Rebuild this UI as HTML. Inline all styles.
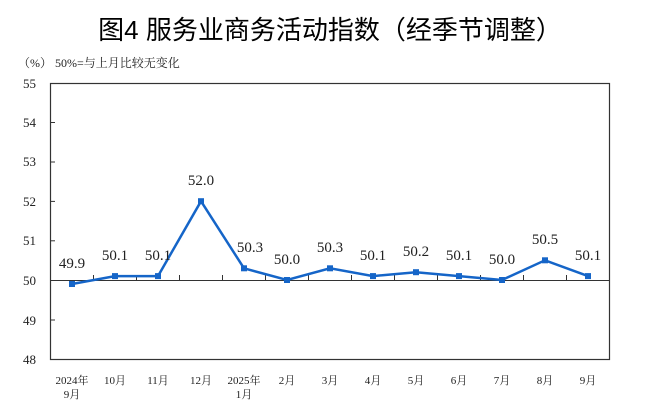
<!DOCTYPE html><html><head><meta charset="utf-8"><style>body{margin:0;background:#fff}svg{display:block}</style></head><body>
<svg width="660" height="410" xmlns="http://www.w3.org/2000/svg" font-family="'Liberation Serif','Noto Serif CJK SC',serif">
<text x="330" y="39" text-anchor="middle" font-size="26" font-family="'Liberation Sans','Noto Sans CJK SC',sans-serif" fill="#000">图4  服务业商务活动指数（经季节调整）</text>
<text x="18" y="67" font-size="12" fill="#222">（%）  50%=与上月比较无变化</text>
<rect x="50.5" y="83.5" width="559" height="276" fill="none" stroke="#333" stroke-width="1.2"/>
<g font-size="13" fill="#222" text-anchor="end">
<text x="36" y="88">55</text><text x="36" y="127">54</text><text x="36" y="166">53</text><text x="36" y="206">52</text><text x="36" y="245">51</text><text x="36" y="285">50</text><text x="36" y="325">49</text><text x="36" y="364">48</text></g>
<g stroke="#333" stroke-width="1">
<line x1="50" y1="122.5" x2="55" y2="122.5"/><line x1="50" y1="162" x2="55" y2="162"/><line x1="50" y1="201.4" x2="55" y2="201.4"/><line x1="50" y1="240.8" x2="55" y2="240.8"/><line x1="50" y1="320" x2="55" y2="320"/>
<line x1="50" y1="280.5" x2="610" y2="280.5"/>
<path d="M93.5 280v-5M136.5 280v-5M179.5 280v-5M222.5 280v-5M265.5 280v-5M308.5 280v-5M351.5 280v-5M394.5 280v-5M437.5 280v-5M480.5 280v-5M523.5 280v-5M566.5 280v-5"/>
</g>
<polyline fill="none" stroke="#1565c8" stroke-width="2.5" points="72,284 115,276.1 158,276.1 201,201.2 244,268.3 287,280 330,268.3 373,276.1 416,272.2 459,276.1 502,280 545,260.3 588,276.1"/>
<g fill="#1565c8">
<rect x="69" y="281" width="6" height="6"/><rect x="112" y="273.1" width="6" height="6"/><rect x="155" y="273.1" width="6" height="6"/><rect x="198" y="198.2" width="6" height="6"/><rect x="241" y="265.3" width="6" height="6"/><rect x="284" y="277" width="6" height="6"/><rect x="327" y="265.3" width="6" height="6"/><rect x="370" y="273.1" width="6" height="6"/><rect x="413" y="269.2" width="6" height="6"/><rect x="456" y="273.1" width="6" height="6"/><rect x="499" y="277" width="6" height="6"/><rect x="542" y="257.3" width="6" height="6"/><rect x="585" y="273.1" width="6" height="6"/></g>
<g font-size="15" fill="#222" text-anchor="middle">
<text x="72" y="268">49.9</text><text x="115" y="260">50.1</text><text x="158" y="260">50.1</text><text x="201" y="185">52.0</text><text x="250" y="252">50.3</text><text x="287" y="264">50.0</text><text x="330" y="252">50.3</text><text x="373" y="260">50.1</text><text x="416" y="256">50.2</text><text x="459" y="260">50.1</text><text x="502" y="264">50.0</text><text x="545" y="244">50.5</text><text x="588" y="260">50.1</text></g>
<g font-size="11" fill="#222" text-anchor="middle">
<text x="72" y="384">2024年</text><text x="72" y="398">9月</text><text x="115" y="384">10月</text><text x="158" y="384">11月</text><text x="201" y="384">12月</text><text x="244" y="384">2025年</text><text x="244" y="398">1月</text><text x="287" y="384">2月</text><text x="330" y="384">3月</text><text x="373" y="384">4月</text><text x="416" y="384">5月</text><text x="459" y="384">6月</text><text x="502" y="384">7月</text><text x="545" y="384">8月</text><text x="588" y="384">9月</text></g>
</svg></body></html>
